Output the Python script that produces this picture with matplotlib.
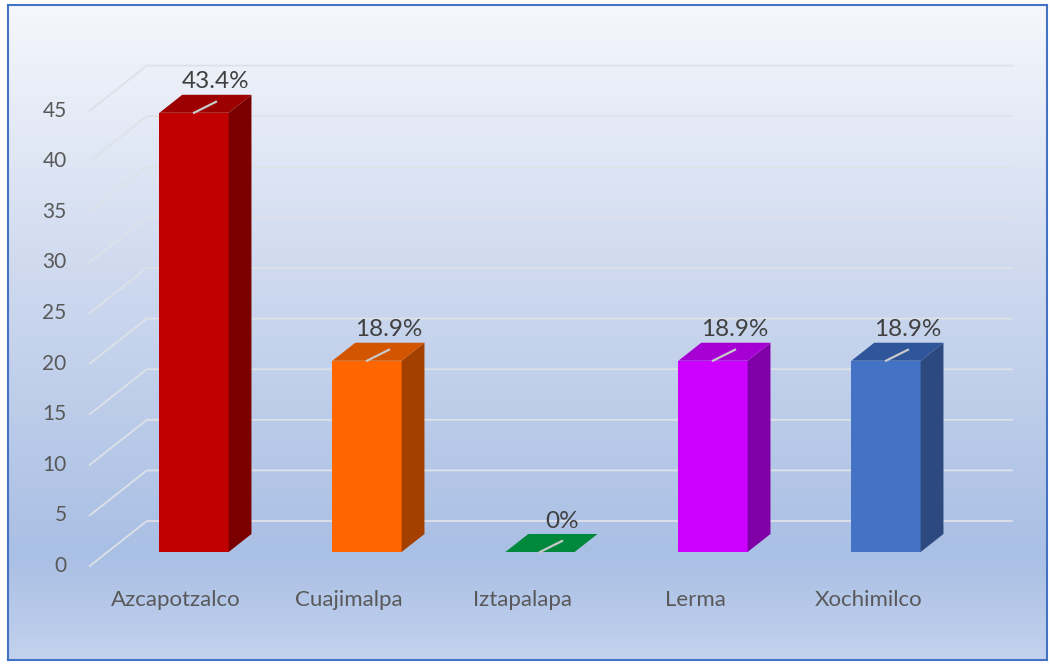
import numpy as np
import matplotlib.pyplot as plt
from matplotlib.colors import LinearSegmentedColormap
from matplotlib.patches import Polygon, Rectangle

categories = ["Azcapotzalco", "Cuajimalpa", "Iztapalapa", "Lerma", "Xochimilco"]
values = [43.4, 18.9, 0, 18.9, 18.9]
value_labels = ["43.4%", "18.9%", "0%", "18.9%", "18.9%"]
yticks = [0, 5, 10, 15, 20, 25, 30, 35, 40, 45]

front_colors = ["#C00000", "#FF6600", "#00A040", "#CC00FF", "#4472C4"]
side_colors = ["#7A0000", "#A34000", "#006B2C", "#8000A8", "#2C4A80"]
top_colors = ["#9C0000", "#D45500", "#00883C", "#A600D4", "#2F559A"]

plt.rcParams['font.family'] = ['Lato', 'DejaVu Sans']

W, H = 1050, 664
fig = plt.figure(figsize=(W / 100, H / 100), dpi=100)

# background panel with vertical gradient
bg = fig.add_axes([8 / W, 4 / H, 1039 / W, 655 / H])
cmap = LinearSegmentedColormap.from_list(
    "bg", [(0, "#f5f7fc"), (0.45, "#cbd7ee"), (0.84, "#a9bfe4"), (1, "#c3d2ee")])
grad = np.linspace(0, 1, 256).reshape(-1, 1)
bg.imshow(grad, aspect="auto", cmap=cmap, extent=[0, 1, 0, 1])
bg.set_xticks([])
bg.set_yticks([])
for s in bg.spines.values():
    s.set_color("#4472C4")
    s.set_linewidth(1.5)

# main axes in data units (category index, value)
ax = fig.add_axes([0, 0, 1, 1])
ax.set_facecolor("none")
ax.axis("off")
sx = 173.0    # px per category
sy = 10.12    # px per value unit
x0_px, y0_px = 194.0, 552.0
ax.set_xlim(-x0_px / sx, (W - x0_px) / sx)
ax.set_ylim(-(H - y0_px) / sy, y0_px / sy)

k = 1.27       # x shift per px of depth


def proj(x, v, d):
    # d = depth in px, 0 = bar front plane, positive goes back
    return (x + k * d / sx, v + d / sy)


front_d, back_d = -14, 31
bar_depth = 18
left, right = -0.5, 4.5
grid_c = "#dde1e8"

for v in yticks:
    p1 = proj(left, v, front_d)
    p2 = proj(left, v, back_d)
    p3 = proj(right, v, back_d)
    ax.plot([p1[0], p2[0], p3[0]], [p1[1], p2[1], p3[1]], color=grid_c, lw=1.3, zorder=1)
    ax.annotate(str(v), p1, xytext=(-23, 0), textcoords="offset pixels",
                ha="right", va="center", fontsize=15, color="#595959")

w = 0.4
for i, (val, lab) in enumerate(zip(values, value_labels)):
    xl, xr = i - w / 2, i + w / 2
    if val > 0:
        ax.add_patch(Rectangle((xl, 0), w, val, facecolor=front_colors[i], edgecolor="none", zorder=3))
        side = [proj(xr, 0, 0), proj(xr, 0, bar_depth), proj(xr, val, bar_depth), proj(xr, val, 0)]
        ax.add_patch(Polygon(side, closed=True, facecolor=side_colors[i], edgecolor="none", zorder=3))
    top = [proj(xl, val, 0), proj(xr, val, 0), proj(xr, val, bar_depth), proj(xl, val, bar_depth)]
    ax.add_patch(Polygon(top, closed=True, facecolor=top_colors[i], edgecolor="none", zorder=3))
    # leader line on the top face
    ax.plot([i, i + 22 / sx], [val, val + 11 / sy], color="#c9c9c9", lw=1.6, zorder=4)
    ax.annotate(lab, (i, val), xytext=(22, 31), textcoords="offset pixels",
                ha="center", va="center", fontsize=17.5, color="#404040", zorder=5)
    ax.annotate(categories[i], proj(i, 0, front_d), xytext=(0, -34), textcoords="offset pixels",
                ha="center", va="center", fontsize=16, color="#595959")

fig.savefig("out.png", dpi=100, facecolor="white")
